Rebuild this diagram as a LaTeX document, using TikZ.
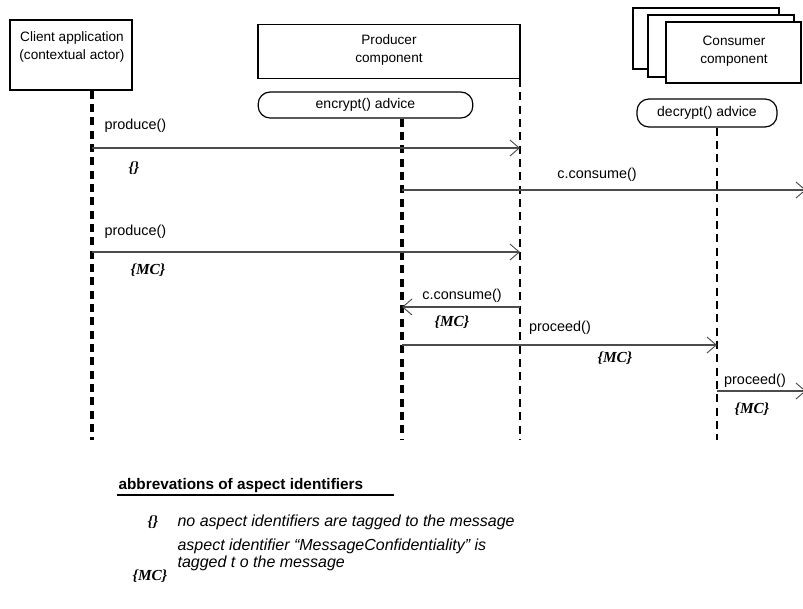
\documentclass[tikz,border=0pt]{standalone}
\usepackage{fontspec}
\setmainfont{Liberation Sans}
\newfontfamily\tagfont{Liberation Serif}
\usetikzlibrary{arrows.meta}
\tikzset{
  obj/.style={draw, line width=0.9pt},
  objtxt/.style={font=\fontsize{10.2}{13.5}\selectfont, inner sep=1pt, align=center},
  advice/.style={draw, line width=0.9pt, rounded corners=9pt, font=\fontsize{10.5}{13}\selectfont},
  life/.style={line width=2.3pt, dash pattern=on 6pt off 4pt},
  thinlife/.style={line width=1.2pt, dash pattern=on 6pt off 4pt},
  msg/.style={line width=1.6pt, draw=black!70, -{Straight Barb[length=7pt,width=12pt,line width=0.7pt]}},
  lbl/.style={font=\fontsize{10.8}{13.5}\selectfont, inner sep=1pt},
  tag/.style={font=\tagfont\bfseries\itshape\fontsize{11.5}{13}\selectfont, inner sep=1pt},
  legend/.style={font=\itshape\fontsize{12}{12.5}\selectfont, inner sep=1pt, anchor=west, align=left}
}
\begin{document}
\begin{tikzpicture}[x=0.75pt,y=-0.75pt]
\useasboundingbox (0,0) rectangle (803,608);
% objects
\draw[obj, fill=white] (633,8) rectangle (779,69);
\draw[obj, fill=white] (648,15) rectangle (794,77);
\draw[obj, fill=white] (666,22) rectangle (801,83);
\node[objtxt] (cons) at (734,51) {Consumer\\component};
\node[obj, minimum width=91.5pt, minimum height=52.5pt] (client) at (71,55) {};
\node[objtxt] (clienttxt) at (72,47) {Client application\\(contextual actor)};
\node[obj, minimum width=196.5pt, minimum height=41pt] (prod) at (389,51.5) {};
\node[objtxt] (prodtxt) at (389,50) {Producer\\component};
\node[advice, minimum width=161pt, minimum height=19.5pt] (enc) at (365.5,105) {encrypt() advice};
\node[advice, minimum width=105pt, minimum height=21pt] (dec) at (707,113) {decrypt() advice};
% lifelines
\coordinate (clientend) at (92,440);
\coordinate (prodend) at (402,440);
\coordinate (prodtop) at (520,79);
\coordinate (rimend) at (520,440);
\coordinate (consend) at (717,440);
\draw[life] (client.south -| clientend) -- (clientend);
\draw[life] (enc.south -| prodend) -- (prodend);
\draw[thinlife] (prodtop) -- (rimend);
\draw[thinlife] (dec.south -| consend) -- (consend);
% messages
\coordinate (a1) at (92,148);  \coordinate (b1) at (520,148);
\coordinate (a2) at (402,190); \coordinate (b2) at (806,190);
\coordinate (a3) at (92,252);  \coordinate (b3) at (520,252);
\coordinate (a4) at (520,307); \coordinate (b4) at (402,307);
\coordinate (a5) at (402,345); \coordinate (b5) at (717,345);
\coordinate (a6) at (717,391); \coordinate (b6) at (806,391);
\draw[msg] (a1) -- (b1);
\draw[msg] (a2) -- (b2);
\draw[msg] (a3) -- (b3);
\draw[msg] (a4) -- (b4);
\draw[msg] (a5) -- (b5);
\draw[msg] (a6) -- (b6);
\node[lbl, anchor=west] (l1) at (103,126) {produce()};
\node[tag] (t1) at (134,168) {\{\}};
\node[lbl] (l2) at (597,175) {c.consume()};
\node[lbl, anchor=west] (l3) at (103,232) {produce()};
\node[tag] (t3) at (148,270) {\{MC\}};
\node[lbl] (l4) at (462,296) {c.consume()};
\node[tag] (t4) at (452,322) {\{MC\}};
\node[lbl] (l5) at (560,328) {proceed()};
\node[tag] (t5) at (615,358) {\{MC\}};
\node[lbl] (l6) at (755,381) {proceed()};
\node[tag] (t6) at (752,409) {\{MC\}};
% legend
\node[font=\bfseries\fontsize{11.5}{13}\selectfont, inner sep=1pt, anchor=west] (title) at (117,486) {abbrevations of aspect identifiers};
\coordinate (uline) at ([xshift=22pt]title.south east);
\draw[line width=1.4pt] (title.south west) -- (uline);
\node[tag] (k1) at (153,522) {\{\}};
\node[legend] (d1) at (176,522) {no aspect identifiers are tagged to the message};
\node[tag] (k2) at (150,576) {\{MC\}};
\node[legend] (d2) at (176,555) {aspect identifier “MessageConfidentiality” is\\tagged t o the message};
\end{tikzpicture}
\end{document}
